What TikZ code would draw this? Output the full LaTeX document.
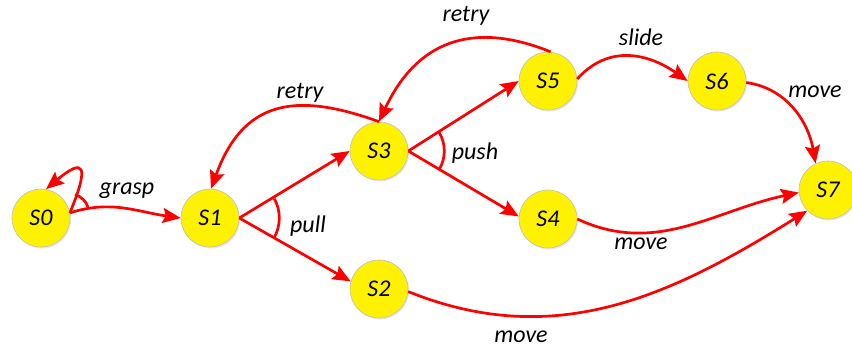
\documentclass[tikz,border=0pt]{standalone}
\usepackage{fontspec}
\setmainfont{Carlito}
\usetikzlibrary{arrows.meta, positioning, shadows}
\colorlet{edgered}{red}
\colorlet{statefill}{yellow}

\begin{document}
\begin{tikzpicture}[x=1pt, y=1pt, >={Stealth[length=18pt, width=15pt, inset=3pt]},
    statenode/.style={circle, minimum size=58pt, inner sep=0pt, fill=statefill, draw=black!25, line width=0.6pt,
      drop shadow={opacity=0.18, shadow xshift=1.2pt, shadow yshift=-1.5pt}, font=\fontsize{24}{28}\selectfont\itshape},
    trans/.style={draw=edgered, line width=2.7pt, ->},
    lbl/.style={font=\fontsize{24}{28}\selectfont\itshape, inner sep=0pt}]
    \useasboundingbox (0, 0) rectangle (852, -349);

    % states
    \node[statenode] (s0) at (41, -218) {S0};
    \node[statenode] (s1) at (210, -218) {S1};
    \node[statenode] (s2) at (379, -289) {S2};
    \node[statenode] (s3) at (379, -151) {S3};
    \node[statenode] (s4) at (548, -219) {S4};
    \node[statenode] (s5) at (548, -81) {S5};
    \node[statenode] (s6) at (717, -81) {S6};
    \node[statenode] (s7) at (828, -190) {S7};

    % transitions
    \draw[trans] (s0.10) .. controls +(20, 48) and +(38, 32) .. (s0.80);
    \draw[trans] (s0.10) to[out=18, in=172] (s1.west);
    \draw[edgered, line width=2.7pt] (s0.10) ++(17:19) arc[start angle=17, end angle=74, radius=19];

    \draw[trans] (s1.east) -- (s3.west);
    \draw[trans] (s1.east) -- (s2.165);
    \draw[edgered, line width=2.7pt] (s1.east) ++(29:40) arc[start angle=29, end angle=-30, radius=40];

    \draw[trans] (s3.east) -- (s5.west);
    \draw[trans] (s3.east) -- (s4.175);
    \draw[edgered, line width=2.7pt] (s3.east) ++(31:36) arc[start angle=31, end angle=-31, radius=36];

    \draw[trans] (s3.north) to[out=160, in=70, looseness=1.3] (s1.88);
    \draw[trans] (s5.85) to[out=158, in=65, looseness=1.2] (s3.north);
    \draw[trans] (s5.4) to[out=48, in=145, looseness=1.1] (s6.west);
    \draw[trans] (s6.-3) to[out=-8, in=100] (s7.115);
    \draw[trans] (s4.east) to[out=-25, in=192] (s7.185);
    \draw[trans] (s2.-5) to[out=-22, in=212] (s7.225);

    % labels
    \node[lbl] (lgrasp) at (127, -191) {grasp};
    \node[lbl] (lpull) at (308, -226) {pull};
    \node[lbl] (lpush) at (475, -153) {push};
    \node[lbl] (lretrya) at (300, -93) {retry};
    \node[lbl] (lretryb) at (466, -16) {retry};
    \node[lbl] (lslide) at (641, -37) {slide};
    \node[lbl] (lmovea) at (815, -92) {move};
    \node[lbl] (lmoveb) at (641, -244) {move};
    \node[lbl] (lmovec) at (521, -337) {move};
  \end{tikzpicture}
\end{document}
